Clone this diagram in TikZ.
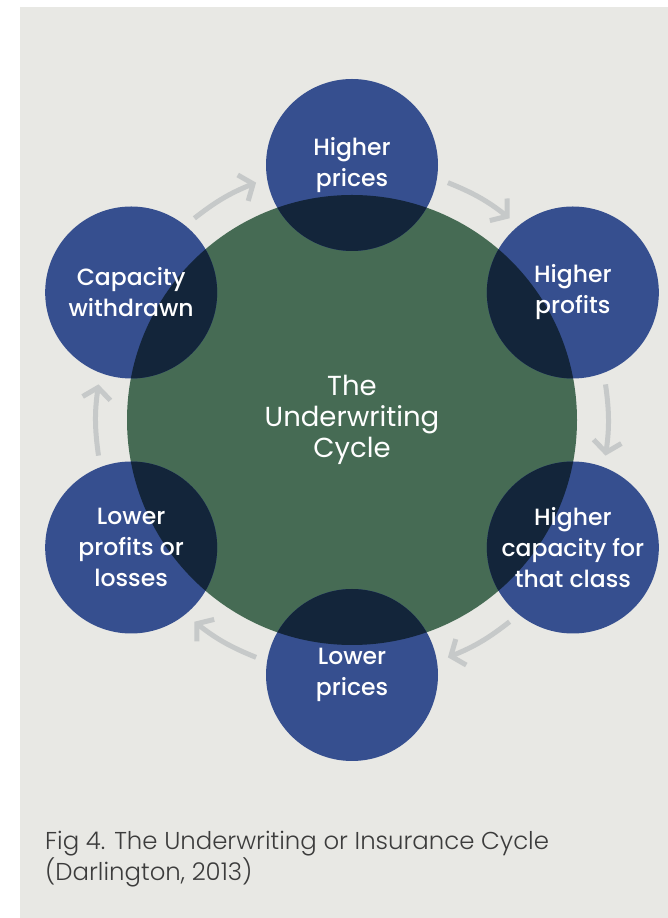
\documentclass[tikz,border=0pt]{standalone}
\usepackage{fontspec}
\usepackage{tikz}
\usetikzlibrary{arrows.meta,calc}
\setmainfont{Poppins}
\IfFontExistsTF{Poppins Medium}{\newfontfamily\labelfont{Poppins Medium}}{\newfontfamily\labelfont{Poppins}}
\IfFontExistsTF{Poppins Light}{\newfontfamily\capfont{Poppins Light}}{\newfontfamily\capfont{Poppins}}
\definecolor{bggray}{HTML}{E8E8E4}
\definecolor{cycblue}{HTML}{364F8F}
\definecolor{cycgreen}{HTML}{466B54}
\definecolor{cycdark}{HTML}{13253A}
\definecolor{arrgray}{HTML}{C6C9C9}
\definecolor{capgray}{HTML}{3C3C3C}
\tikzset{
  stage/.style={circle, minimum size=172pt, inner sep=0pt, align=center,
                text=white, font=\labelfont\fontsize{23.5}{31}\selectfont},
  cycarrow/.style={line width=5pt, arrgray,
                   -{Straight Barb[length=11pt,width=28pt]}}
}

\begin{document}
\begin{tikzpicture}[x=1pt,y=1pt]
    \useasboundingbox (0,0) rectangle (668,918);
    %Background
    \fill[bggray] (20,0) rectangle (668,911);
    \coordinate (cyc) at (352,498);
    %Big circle
    \fill[cycgreen] (cyc) circle (225);
    %Stage circles
    \foreach \a in {90, 30,...,-210}
      \fill[cycblue] ($(cyc)+(\a:255)$) circle (86);
    %Overlaps
    \begin{scope}
      \clip (cyc) circle (225);
      \foreach \a in {90, 30,...,-210}
        \fill[cycdark] ($(cyc)+(\a:255)$) circle (86);
    \end{scope}
    %Labels
    \node[align=center, text=white, font=\fontsize{27.5}{31}\selectfont] (core) at (cyc)
      {The\\Underwriting\\Cycle};
    \foreach \a/\nm/\txt in {90/hprice/{Higher\\prices},
                             30/hprofit/{Higher\\profits},
                             -30/hcap/{Higher\\capacity for\\that class},
                             -90/lprice/{Lower\\prices},
                             -150/lprofit/{Lower\\profits or\\losses},
                             150/wdrawn/{Capacity\\withdrawn}}
      \node[stage] (\nm) at ($(cyc)+(\a:255)$) {\txt};
    %Arrows
    \foreach \m [count=\i] in {60, 0, -60, -120, 180, 120}{
      \coordinate (as\i) at ($(cyc)+(\m+8:256)$);
      \coordinate (ae\i) at ($(cyc)+(\m-8:256)$);
      \draw[cycarrow] (as\i) to[bend left=8] (ae\i);
    }
    %Caption
    \node[anchor=north west, inner sep=0pt, align=left, text=capgray,
          font=\capfont\fontsize{24.4}{31}\selectfont] (caption) at (45,87)
      {Fig 4. The Underwriting or Insurance Cycle\\(Darlington, 2013)};
\end{tikzpicture}
\end{document}
